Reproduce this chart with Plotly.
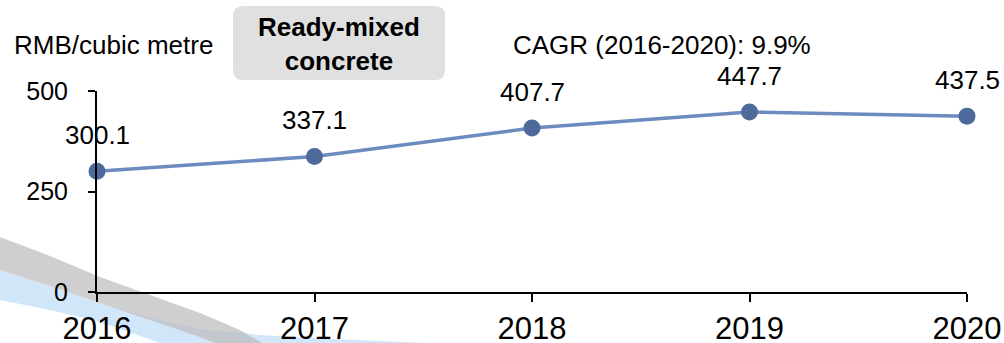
import plotly.graph_objects as go

years = [2016, 2017, 2018, 2019, 2020]
prices = [300.1, 337.1, 407.7, 447.7, 437.5]
labels = ["300.1", "337.1", "407.7", "447.7", "437.5"]
y_ticks = [0, 250, 500]

W, H = 1004, 343
L, R, T, B = 97, 37, 91, 51
PW, PH = W - L - R, H - T - B


def px(x):
    return (x - L) / PW


def py(y):
    return (H - B - y) / PH


def path(pts_cmds):
    out = []
    for c in pts_cmds:
        if isinstance(c, str):
            out.append(c)
        else:
            out.append(f"{px(c[0]):.4f},{py(c[1]):.4f}")
    return " ".join(out)


def poly(points):
    cmds = []
    for i, p in enumerate(points):
        cmds += ["M" if i == 0 else "L", p]
    return path(cmds + ["Z"])


FONT = "Arial, Liberation Sans, sans-serif"

fig = go.Figure()
fig.add_trace(go.Scatter(
    x=years, y=prices, mode="lines+markers",
    line=dict(color="#6C8CC0", width=3.5),
    marker=dict(color="#4D6A9A", size=17),
    cliponaxis=False, showlegend=False, hoverinfo="skip",
))

annotations = []
for x, y, t in zip(years, prices, labels):
    annotations.append(dict(x=x, y=y, text=t, showarrow=False, yshift=36,
                            font=dict(size=26, color="#000", family=FONT)))

annotations += [
    dict(xref="paper", yref="paper", x=px(12), y=py(45), xanchor="left", yanchor="middle",
         text="RMB/cubic metre", showarrow=False, font=dict(size=26, color="#000", family=FONT)),
    dict(xref="paper", yref="paper", x=px(339), y=py(44), xanchor="center", yanchor="middle",
         text="<b>Ready-mixed<br>concrete</b>", showarrow=False,
         font=dict(size=26, color="#000", family=FONT)),
    dict(xref="paper", yref="paper", x=px(511), y=py(45), xanchor="left", yanchor="middle",
         text="CAGR (2016-2020): 9.9%", showarrow=False, font=dict(size=26, color="#000", family=FONT)),
]

# rounded box
x0, x1, y0, y1, r = 233, 445, 6, 80, 10
box = path(["M", (x0 + r, y0), "L", (x1 - r, y0), "Q", (x1, y0), (x1, y0 + r),
            "L", (x1, y1 - r), "Q", (x1, y1), (x1 - r, y1), "L", (x0 + r, y1),
            "Q", (x0, y1), (x0, y1 - r), "L", (x0, y0 + r), "Q", (x0, y0), (x0 + r, y0), "Z"])

# decorative background swoosh (pixel outline)
blue = poly([(0, 270), (50, 286), (100, 303), (150, 318), (200, 329), (260, 335),
             (330, 339), (430, 343), (160, 343), (100, 322), (50, 310), (0, 300)])
gray = poly([(0, 237), (50, 256), (100, 277), (150, 295), (200, 313), (240, 330),
             (262, 343), (215, 343), (200, 337), (150, 320), (100, 303), (50, 286), (0, 270)])

shapes = [
    dict(type="path", path=blue, xref="paper", yref="paper", fillcolor="#B4D6F5",
         opacity=0.6, line=dict(width=0), layer="below"),
    dict(type="path", path=gray, xref="paper", yref="paper", fillcolor="#BBBBBB",
         opacity=0.7, line=dict(width=0), layer="below"),
    dict(type="path", path=box, xref="paper", yref="paper", fillcolor="#E0E0E0",
         line=dict(width=0), layer="below"),
]

fig.update_layout(
    width=W, height=H,
    margin=dict(l=L, r=R, t=T, b=B, pad=0, autoexpand=False),
    paper_bgcolor="white", plot_bgcolor="rgba(0,0,0,0)",
    font=dict(family=FONT, color="#000"),
    annotations=annotations, shapes=shapes,
    xaxis=dict(range=[2016, 2020], tickvals=years, ticktext=[str(y) for y in years],
               showgrid=False, zeroline=False, showline=True, linecolor="#000", linewidth=2,
               ticks="outside", ticklen=8, tickwidth=2, tickcolor="#000", automargin=False,
               tickfont=dict(size=31, family=FONT, color="#000"), fixedrange=True),
    yaxis=dict(range=[0, 500], tickvals=y_ticks, showgrid=False, zeroline=False,
               showline=True, linecolor="#000", linewidth=2, automargin=False,
               ticks="outside", ticklen=7, tickwidth=2, tickcolor="#000",
               ticklabelstandoff=15,
               tickfont=dict(size=25, family=FONT, color="#000"), fixedrange=True),
)

fig.write_html("out.html", config={"displayModeBar": False},
               post_script="document.body.style.margin='0';document.body.style.overflow='hidden';")
